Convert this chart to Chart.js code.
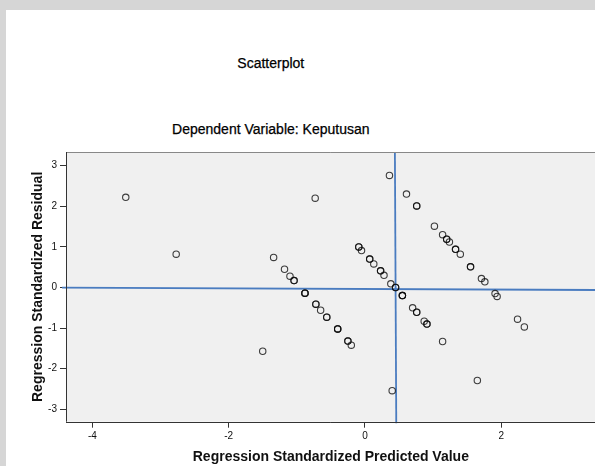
<!DOCTYPE html>
<html><head><meta charset="utf-8">
<script src="https://cdn.jsdelivr.net/npm/chart.js@4/dist/chart.umd.min.js"></script>
<style>
html,body{margin:0;padding:0;overflow:hidden;background:#d6d6d6;width:595px;height:466px;}
#panel{position:absolute;left:6px;top:10px;width:600px;height:470px;background:#fff;}
#wrap{position:absolute;left:0;top:0;width:600px;height:466px;}
.t{position:absolute;left:0;width:541.6px;text-align:center;font:14px "Liberation Sans",Arial,sans-serif;line-height:16px;color:#000;-webkit-text-stroke:0.25px #000;}
</style></head>
<body>
<div id="panel"></div>
<div class="t" style="top:54.8px">Scatterplot</div>
<div class="t" style="top:120.5px">Dependent Variable: Keputusan</div>
<div id="wrap"><canvas id="c" width="600" height="466"></canvas></div>
<script>
// Regression Standardized Predicted Value (x)
const predicted = [-3.51, -2.77, -0.73, 0.36, -1.50, 0.40, 1.65, 1.14,
  -1.34, -1.18, -1.10, -1.04, -1.04, -0.88, -0.88, -0.88, -0.72, -0.72, -0.65, -0.56, -0.56, -0.40, -0.40, -0.40, -0.25, -0.25, -0.20,
  -0.09, -0.09, -0.05, 0.07, 0.07, 0.13, 0.23, 0.23, 0.28, 0.38, 0.45, 0.45, 0.55, 0.55, 0.55, 0.70, 0.76, 0.76, 0.87, 0.91, 0.91,
  0.61, 0.76, 0.76, 1.02, 1.14, 1.20, 1.20, 1.24, 1.33, 1.33, 1.40, 1.55, 1.55, 1.71, 1.76, 1.91, 1.94, 2.24, 2.34];
// Regression Standardized Residual (y)
const residual = [2.22, 0.82, 2.20, 2.76, -1.57, -2.54, -2.29, -1.33,
  0.74, 0.45, 0.28, 0.17, 0.17, -0.14, -0.14, -0.14, -0.41, -0.41, -0.56, -0.73, -0.73, -1.02, -1.02, -1.02, -1.32, -1.32, -1.42,
  1.00, 1.00, 0.91, 0.70, 0.70, 0.58, 0.41, 0.41, 0.30, 0.09, 0.00, 0.00, -0.20, -0.20, -0.20, -0.50, -0.61, -0.61, -0.83, -0.90, -0.90,
  2.30, 2.01, 2.01, 1.51, 1.30, 1.19, 1.19, 1.12, 0.94, 0.94, 0.82, 0.51, 0.51, 0.22, 0.14, -0.15, -0.22, -0.78, -0.97];
// reference lines (as drawn in the picture)
const refHorizontalX = [-4.445, 3.387];
const refHorizontalY = [-0.005, -0.062];
const refVerticalX = [0.44, 0.46];
const refVerticalY = [3.337, -3.345];
// ticks
const xTicks = [-4, -2, 0, 2];
const yTicks = [3, 2, 1, 0, -1, -2, -3];
const xRange = [-4.387, 3.387];
const yRange = [-3.305, 3.337];

const FONT = '"Liberation Sans", Arial, sans-serif';

const frame = {
  id: 'frame',
  beforeDraw(chart) {
    const {ctx, chartArea: a} = chart;
    ctx.save();
    ctx.fillStyle = '#f0f0f0';
    ctx.fillRect(a.left, a.top, a.right - a.left, a.bottom - a.top);
    ctx.restore();
  },
  afterDraw(chart) {
    const {ctx, chartArea: a} = chart;
    ctx.save();
    ctx.lineWidth = 1;
    ctx.strokeStyle = '#888';
    ctx.beginPath();
    ctx.moveTo(a.left, Math.round(a.top) + 0.5); ctx.lineTo(a.right, Math.round(a.top) + 0.5);
    ctx.stroke();
    ctx.strokeStyle = '#333';
    ctx.beginPath();
    ctx.moveTo(Math.round(a.left) + 0.5, a.top); ctx.lineTo(Math.round(a.left) + 0.5, a.bottom);
    ctx.moveTo(a.left, Math.round(a.bottom) + 0.5); ctx.lineTo(a.right, Math.round(a.bottom) + 0.5);
    ctx.stroke();
    ctx.restore();
  }
};

const pts = predicted.map((x, i) => ({x: x, y: residual[i]}));
const hLine = refHorizontalX.map((x, i) => ({x: x, y: refHorizontalY[i]}));
const vLine = refVerticalX.map((x, i) => ({x: x, y: refVerticalY[i]}));

new Chart(document.getElementById('c'), {
  type: 'scatter',
  data: {
    datasets: [
      {type: 'line', data: hLine, borderColor: '#4a7cc0', borderWidth: 1.8, pointRadius: 0, clip: false, fill: false, order: 2},
      {type: 'line', data: vLine, borderColor: '#4a7cc0', borderWidth: 1.8, pointRadius: 0, clip: false, fill: false, order: 2},
      {data: pts, pointRadius: 3.2, pointHoverRadius: 3.2, borderWidth: 1.1, borderColor: 'rgba(10,10,10,0.78)', backgroundColor: 'rgba(0,0,0,0)', order: 1}
    ]
  },
  options: {
    responsive: false,
    animation: false,
    events: [],
    layout: {padding: {left: 0, top: 152, right: 2, bottom: 0}},
    plugins: {legend: {display: false}, tooltip: {enabled: false}, title: {display: false}},
    scales: {
      x: {
        type: 'linear', min: xRange[0], max: xRange[1],
        afterBuildTicks: s => { s.ticks = xTicks.map(v => ({value: v})); },
        afterFit: s => { s.height = 44.3; },
        grid: {drawOnChartArea: false, drawTicks: true, tickLength: 6, color: '#333'},
        border: {display: false},
        ticks: {padding: 3, color: '#111', font: {family: FONT, size: 10}, callback: v => String(v)},
        title: {display: true, text: 'Regression Standardized Predicted Value', color: '#111',
          font: {family: FONT, size: 14, weight: 'bold'}, padding: {top: 0.9, bottom: 0}}
      },
      y: {
        type: 'linear', min: yRange[0], max: yRange[1],
        afterBuildTicks: s => { s.ticks = yTicks.map(v => ({value: v})); },
        afterFit: s => { s.width = 66; },
        grid: {drawOnChartArea: false, drawTicks: true, tickLength: 6, color: '#333'},
        border: {display: false},
        ticks: {padding: 3, color: '#111', font: {family: FONT, size: 10}, callback: v => String(v)},
        title: {display: true, text: 'Regression Standardized Residual', color: '#111',
          font: {family: FONT, size: 14, weight: 'bold'}, padding: {top: 29.6, bottom: 0}}
      }
    }
  },
  plugins: [frame]
});
</script>
</body></html>
